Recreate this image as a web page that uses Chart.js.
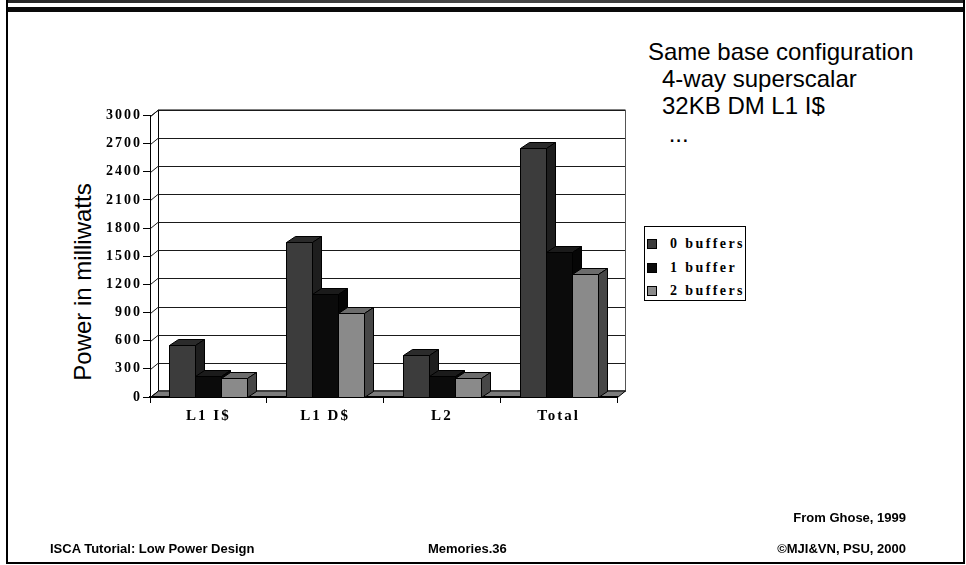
<!DOCTYPE html>
<html>
<head>
<meta charset="utf-8">
<script src="https://cdn.jsdelivr.net/npm/chart.js@4/dist/chart.umd.min.js"></script>
<style>
  html, body { margin: 0; padding: 0; background: #fff; }
  body { width: 966px; height: 565px; position: relative; overflow: hidden;
         font-family: 'Liberation Sans', Arial, sans-serif; color: #000; }
  #chart { position: absolute; left: 0; top: 0; }
  .frame { position: absolute; left: 6px; top: 0; width: 955px; height: 562px;
           border-left: 2px solid #000; border-right: 2px solid #000; border-bottom: 2px solid #000; }
  .band-top { position: absolute; left: 8px; top: 0; width: 955px; height: 3px;
              background: linear-gradient(to right, #262626, #484848 50%, #262626); }
  .band-black { position: absolute; left: 8px; top: 7px; width: 955px; height: 5px; background: #0a0a0a; }
  .notes { position: absolute; left: 648px; top: 38px; font-size: 24px; line-height: 27.2px; white-space: pre; }
  .notes .sub { padding-left: 14px; }
  .ytitle { position: absolute; left: -67px; top: 268px; width: 300px; height: 28px; line-height: 28px;
            text-align: center; font-size: 24px; transform: rotate(-90deg); white-space: nowrap; }
  .legend { position: absolute; left: 644px; top: 226px; width: 100px; height: 73px; border: 1px solid #000; background: #fff; }
  .legend .item { position: absolute; left: 2px; height: 20px; line-height: 20px; white-space: nowrap;
                  font-family: 'Liberation Serif', 'Times New Roman', serif; font-weight: bold; font-size: 14px; letter-spacing: 2.4px; }
  .legend .swatch { position: absolute; left: 0; top: 5px; width: 8px; height: 8px; border: 1px solid #000; }
  .legend .label { position: absolute; left: 23px; top: 0; }
  .foot { position: absolute; font-weight: bold; font-size: 13px; line-height: 15px; white-space: nowrap; }
</style>
</head>
<body>
<div class="frame"></div>
<div class="band-top"></div>
<div class="band-black"></div>

<div class="notes">Same base configuration
<span class="sub">4-way superscalar</span>
<span class="sub">32KB DM L1 I$</span>
<span class="sub"> ...</span></div>

<div class="ytitle">Power in milliwatts</div>

<canvas id="chart" width="966" height="565"></canvas>

<div class="legend" id="legend"></div>

<div class="foot" style="right:60px; top:510px;">From Ghose, 1999</div>
<div class="foot" style="left:50px; top:541px;">ISCA Tutorial: Low Power Design</div>
<div class="foot" style="left:428px; top:541px;">Memories.36</div>
<div class="foot" style="right:60px; top:541px;">©MJI&amp;VN, PSU, 2000</div>

<script>
// Cache power by structure and number of buffers (mW)
const categories = ['L1 I$', 'L1 D$', 'L2', 'Total'];
const seriesNames = ['0 buffers', '1 buffer', '2 buffers'];
const zeroBuffers = [550, 1650, 450, 2650];
const oneBuffer   = [220, 1100, 220, 1540];
const twoBuffers  = [200, 900, 200, 1310];
const powerTicks  = [0, 300, 600, 900, 1200, 1500, 1800, 2100, 2400, 2700, 3000];

// front / top / side shades for each series
const frontColors = ['#3c3c3c', '#0b0b0b', '#8a8a8a'];
const topColors   = ['#2b2b2b', '#1b1b1b', '#6c6c6c'];
const sideColors  = ['#1e1e1e', '#060606', '#474747'];

const WALL_DX = 8, WALL_DY = 6.5;   // depth of the walls and floor
const BAR_DX = 9, BAR_DY = 6;       // depth of each column

function line(ctx, x1, y1, x2, y2) {
  ctx.beginPath(); ctx.moveTo(x1, y1); ctx.lineTo(x2, y2); ctx.stroke();
}
function poly(ctx, pts, fill) {
  ctx.beginPath();
  ctx.moveTo(pts[0][0], pts[0][1]);
  for (let i = 1; i < pts.length; i++) ctx.lineTo(pts[i][0], pts[i][1]);
  ctx.closePath();
  ctx.fillStyle = fill; ctx.fill(); ctx.stroke();
}

// Walls, floor and extruded columns
const box3d = {
  id: 'box3d',
  beforeDraw(chart) {
    const { ctx, chartArea: a, scales: { y } } = chart;
    const L = Math.round(a.left) + 0.5, R = Math.round(a.right) + 0.5;
    const T = Math.round(a.top) + 0.5, B = Math.round(a.bottom) + 0.5;
    ctx.save();
    ctx.lineWidth = 1;
    ctx.strokeStyle = '#000';
    // left wall
    poly(ctx, [[L, T], [L + WALL_DX, T - WALL_DY], [L + WALL_DX, B - WALL_DY], [L, B]], '#fff');
    // back wall
    poly(ctx, [[L + WALL_DX, T - WALL_DY], [R + WALL_DX, T - WALL_DY], [R + WALL_DX, B - WALL_DY], [L + WALL_DX, B - WALL_DY]], '#fff');
    // gridlines on the back wall and their diagonals across the left wall
    ctx.strokeStyle = '#1a1a1a';
    powerTicks.forEach(v => {
      const py = Math.round(y.getPixelForValue(v)) + 0.5;
      line(ctx, L + WALL_DX, Math.round(py - WALL_DY) + 0.5, R + WALL_DX, Math.round(py - WALL_DY) + 0.5);
      line(ctx, L, py, L + WALL_DX, py - WALL_DY);
    });
    ctx.strokeStyle = '#555';
    line(ctx, R + WALL_DX, T - WALL_DY, R + WALL_DX, B - WALL_DY);
    // floor
    ctx.strokeStyle = '#000';
    poly(ctx, [[L, B], [R, B], [R + WALL_DX, B - WALL_DY], [L + WALL_DX, B - WALL_DY]], '#7c7c7c');
    ctx.restore();
    ctx.letterSpacing = '2px';
  },
  beforeDatasetsDraw(chart) {
    const ctx = chart.ctx;
    ctx.save();
    ctx.lineWidth = 1;
    ctx.strokeStyle = '#000';
    for (let i = 0; i < categories.length; i++) {
      chart.data.datasets.forEach((ds, d) => {
        const el = chart.getDatasetMeta(d).data[i];
        const x0 = Math.round(el.x - el.width / 2) + 0.5;
        const x1 = Math.round(el.x + el.width / 2) + 0.5;
        const t = Math.round(el.y) + 0.5;
        const b = Math.round(el.base) + 0.5;
        poly(ctx, [[x0, t], [x1, t], [x1, b], [x0, b]], frontColors[d]);
        poly(ctx, [[x0, t], [x0 + BAR_DX, t - BAR_DY], [x1 + BAR_DX, t - BAR_DY], [x1, t]], topColors[d]);
        poly(ctx, [[x1, t], [x1 + BAR_DX, t - BAR_DY], [x1 + BAR_DX, b - BAR_DY], [x1, b]], sideColors[d]);
      });
    }
    ctx.restore();
    return false;
  }
};

const seriesValues = [zeroBuffers, oneBuffer, twoBuffers];
const tickFont = { family: "'Liberation Serif', 'Times New Roman', serif", weight: 'bold', size: 14 };

new Chart(document.getElementById('chart'), {
  type: 'bar',
  data: {
    labels: categories,
    datasets: seriesNames.map((name, d) => ({
      label: name,
      data: seriesValues[d],
      backgroundColor: frontColors[d],
      borderColor: '#000',
      borderWidth: 1
    }))
  },
  options: {
    responsive: false,
    animation: false,
    devicePixelRatio: 1,
    datasets: { bar: { categoryPercentage: 0.668, barPercentage: 1.0 } },
    layout: { padding: { left: 90, top: 115.5, right: 349, bottom: 138 } },
    plugins: { legend: { display: false }, tooltip: { enabled: false } },
    scales: {
      x: {
        offset: true,
        afterFit: s => { s.height = 30; },
        grid: { drawOnChartArea: false, offset: true, tickLength: 6, color: '#000' },
        border: { display: true, color: '#000', width: 2 },
        ticks: { font: { ...tickFont, size: 15 }, color: '#000', padding: 4, maxRotation: 0 }
      },
      y: {
        min: 0, max: 3000,
        afterFit: s => { s.width = 60; },
        afterBuildTicks: s => { s.ticks = powerTicks.map(v => ({ value: v })); },
        grid: { drawOnChartArea: false, tickLength: 7, color: '#000' },
        border: { display: true, color: '#000', width: 1 },
        ticks: { font: tickFont, color: '#000', padding: 1, callback: v => String(v) }
      }
    }
  },
  plugins: [box3d]
});

// legend entries from the series names and shades
const legend = document.getElementById('legend');
const rowTops = [7, 31, 54];
seriesNames.forEach((name, d) => {
  const item = document.createElement('div');
  item.className = 'item';
  item.style.top = rowTops[d] + 'px';
  item.innerHTML = '<span class="swatch" style="background:' + frontColors[d] + '"></span><span class="label"></span>';
  item.querySelector('.label').textContent = name;
  legend.appendChild(item);
});
</script>
</body>
</html>
